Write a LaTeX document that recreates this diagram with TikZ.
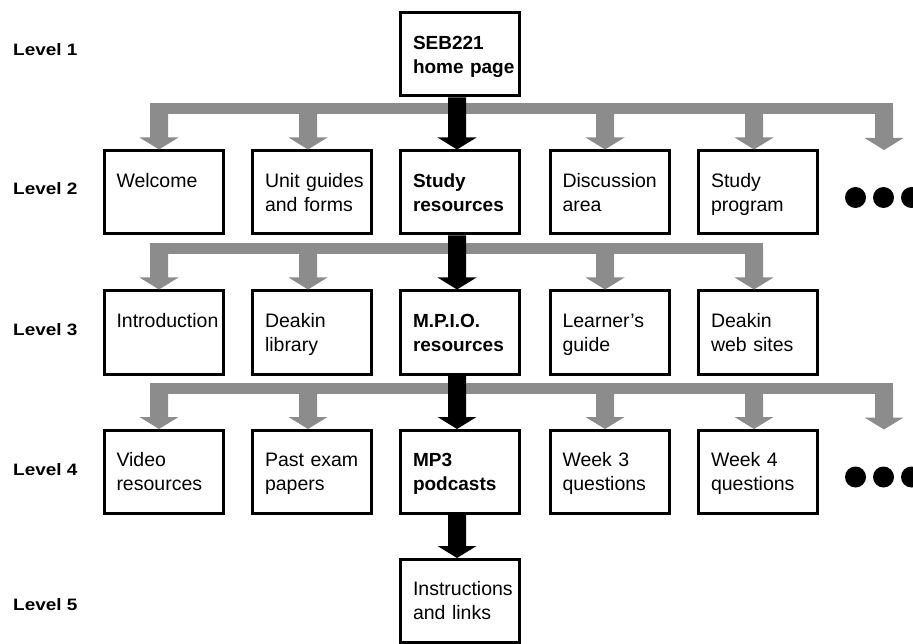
\documentclass[tikz,border=0pt]{standalone}
\usepackage{fontspec}
\setmainfont{Liberation Sans}
\newfontfamily\lvlfont[FakeStretch=1.15]{Liberation Sans}
\usetikzlibrary{calc}
\definecolor{busgray}{RGB}{140,140,140}
\newcommand\fatarrow[3]{%
  \path[#1] let \p1=#2, \p2=#3 in
    (\x2-9pt,\y1) -- (\x2+9pt,\y1) -- (\x2+9pt,\y2+12pt) -- (\x2+19.5pt,\y2+12pt)
    -- (\x2,\y2) -- (\x2-19.5pt,\y2+12pt) -- (\x2-9pt,\y2+12pt) -- cycle;}
\newcommand\twolines[2]{\mbox{\rule{0pt}{20.8pt}#1}\\\mbox{\strut #2}}
\begin{document}
\begin{tikzpicture}[x=1pt,y=-1pt,
  page/.style={draw=black, line width=3pt, fill=white, minimum height=83pt,
    inner xsep=12.5pt, inner ysep=0pt, text width=94pt, align=left,
    font=\fontsize{19.5}{24}\selectfont},
  key/.style={page, font=\fontsize{19}{24}\selectfont\bfseries},
  lvl/.style={anchor=base west, inner sep=0pt, font=\lvlfont\fontsize{16.5}{20}\selectfont\bfseries},
  dot/.style={circle, fill=black, minimum size=21pt, inner sep=0pt},
  bus/.style={line width=11pt, draw=busgray},
  grayarrow/.style={fill=busgray},
  blackarrow/.style={fill=black},
]
\useasboundingbox (0,0) rectangle (913,644);
\clip (0,0) rectangle (913,644);

% level labels
\node[lvl] (l1) at (13,56) {Level 1};
\node[lvl] (l2) at (13,195) {Level 2};
\node[lvl] (l3) at (13,335) {Level 3};
\node[lvl] (l4) at (13,475) {Level 4};
\node[lvl] (l5) at (13,610) {Level 5};

% level 1
\node[key] (home) at (460,54.5) {\twolines{SEB221}{home page}};

% level 2
\node[page] (welcome) at (163.5,192.5) {\twolines{Welcome}{}};
\node[page] (unit)    at (312,192.5)   {\twolines{Unit guides}{and forms}};
\node[key]  (study)   at (460,192.5)   {\twolines{Study}{resources}};
\node[page] (disc)    at (609.5,192.5) {\twolines{Discussion}{area}};
\node[page] (prog)    at (758,192.5)   {\twolines{Study}{program}};
\node[dot] (d2a) at (855.5,197.5) {};
\node[dot] (d2b) at (883.5,197.5) {};
\node[dot] (d2c) at (911.5,197.5) {};

% level 3
\node[page] (intro)   at (163.5,332.5) {\twolines{Introduction}{}};
\node[page] (library) at (312,332.5)   {\twolines{Deakin}{library}};
\node[key]  (mpio)    at (460,332.5)   {\twolines{M.P.I.O.}{resources}};
\node[page] (learner) at (609.5,332.5) {\twolines{Learner's}{guide}};
\node[page] (web)     at (758,332.5)   {\twolines{Deakin}{web sites}};

% level 4
\node[page] (video)   at (163.5,472) {\twolines{Video}{resources}};
\node[page] (exam)    at (312,472)   {\twolines{Past exam}{papers}};
\node[key]  (mp3)     at (460,472)   {\twolines{MP3}{podcasts}};
\node[page] (week3)   at (609.5,472) {\twolines{Week 3}{questions}};
\node[page] (week4)   at (758,472)   {\twolines{Week 4}{questions}};
\node[dot] (d4a) at (855.5,477) {};
\node[dot] (d4b) at (883.5,477) {};
\node[dot] (d4c) at (911.5,477) {};

% level 5
\node[page] (instr) at (460,601) {\twolines{Instructions}{and links}};

% buses
\coordinate (bus2) at (150,109);   \coordinate (bus2e) at (893,109);
\coordinate (bus3) at (150,248.5); \coordinate (bus3e) at (763,248.5);
\coordinate (bus4) at (150,388.5); \coordinate (bus4e) at (893,388.5);
\coordinate (more2) at (884,150);
\coordinate (more4) at (884,429.5);
\draw[bus] (bus2) -- (bus2e);
\draw[bus] (bus3) -- (bus3e);
\draw[bus] (bus4) -- (bus4e);

% gray arrows level 2
\fatarrow{grayarrow}{(bus2)}{([xshift=-4.5pt]welcome.north)}
\fatarrow{grayarrow}{(bus2)}{([xshift=-4pt]unit.north)}
\fatarrow{grayarrow}{(bus2)}{([xshift=-4.5pt]disc.north)}
\fatarrow{grayarrow}{(bus2)}{([xshift=-4pt]prog.north)}
\fatarrow{grayarrow}{(bus2)}{(more2)}
% gray arrows level 3
\fatarrow{grayarrow}{(bus3)}{([xshift=-4.5pt]intro.north)}
\fatarrow{grayarrow}{(bus3)}{([xshift=-4pt]library.north)}
\fatarrow{grayarrow}{(bus3)}{([xshift=-4.5pt]learner.north)}
\fatarrow{grayarrow}{(bus3)}{([xshift=-4pt]web.north)}
% gray arrows level 4
\fatarrow{grayarrow}{(bus4)}{([xshift=-4.5pt]video.north)}
\fatarrow{grayarrow}{(bus4)}{([xshift=-4pt]exam.north)}
\fatarrow{grayarrow}{(bus4)}{([xshift=-4.5pt]week3.north)}
\fatarrow{grayarrow}{(bus4)}{([xshift=-4pt]week4.north)}
\fatarrow{grayarrow}{(bus4)}{(more4)}

% black arrows
\fatarrow{blackarrow}{(home.south)}{([xshift=-3pt]study.north)}
\fatarrow{blackarrow}{(study.south)}{([xshift=-3pt]mpio.north)}
\fatarrow{blackarrow}{(mpio.south)}{([xshift=-3pt]mp3.north)}
\fatarrow{blackarrow}{(mp3.south)}{([xshift=-3pt]instr.north)}
\end{tikzpicture}
\end{document}
